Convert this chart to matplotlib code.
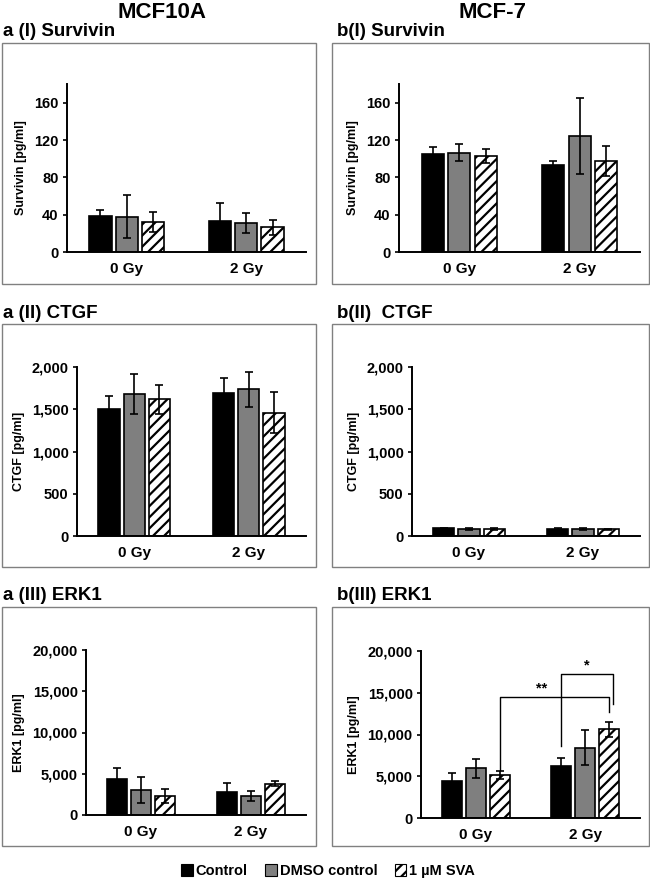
import matplotlib
matplotlib.use("Agg")
import matplotlib.pyplot as plt
from matplotlib.patches import Rectangle, Patch
from matplotlib.ticker import FuncFormatter
import numpy as np

plt.rcParams['font.family'] = ['Liberation Sans', 'DejaVu Sans']
plt.rcParams['font.weight'] = 'bold'
plt.rcParams['hatch.linewidth'] = 1.6

# ---------------- data ----------------
doses = ["0 Gy", "2 Gy"]
treatments = ["Control", "DMSO control", "1 \u00b5M SVA"]

# a(I) MCF10A Survivin
a1_mean = [[39, 38, 32], [33, 31, 26.5]]
a1_err = [[6, 23, 11], [19, 11, 8]]
# b(I) MCF-7 Survivin
b1_mean = [[105.5, 106.5, 102.5], [93, 124.5, 97.5]]
b1_err = [[7.5, 9, 7.5], [4, 41, 16]]
# a(II) MCF10A CTGF
a2_mean = [[1503, 1680, 1617], [1696, 1736, 1460]]
a2_err = [[158, 237, 174], [170, 209, 240]]
# b(II) MCF-7 CTGF
b2_mean = [[90, 80, 80], [82, 85, 78]]
b2_err = [[10, 10, 9], [8, 12, 9]]
# a(III) MCF10A ERK1
a3_mean = [[4320, 3070, 2340], [2790, 2300, 3800]]
a3_err = [[1330, 1580, 850], [1050, 560, 280]]
# b(III) MCF-7 ERK1
b3_mean = [[4410, 5960, 5130], [6240, 8390, 10620]]
b3_err = [[950, 1150, 480], [920, 2100, 875]]

# significance brackets in b(III): (from dose, from treatment, to dose, to treatment, left-foot, right-foot, top, label)
sig_brackets = [
    (0, 2, 1, 2, 5750, 12700, 14500, "**"),
    (1, 0, 1, 2, 8650, 13700, 17300, "*"),
]

ylabels = ["Survivin [pg/ml]", "CTGF [pg/ml]", "ERK1 [pg/ml]"]
ylims = [180, 2000, 20000]
yticks = [[0, 40, 80, 120, 160], [0, 500, 1000, 1500, 2000],
          [0, 5000, 10000, 15000, 20000]]
titles_a = ["a (I) Survivin", "a (II) CTGF", "a (III) ERK1"]
titles_b = ["b(I) Survivin", "b(II)  CTGF", "b(III) ERK1"]
col_titles = ["MCF10A", "MCF-7"]

# ---------------- style ----------------
fills = ["black", "#7f7f7f", "white"]
hatches = [None, None, "///"]
bar_w = 0.185
step = 0.22

W, H = 650, 882
fig = plt.figure(figsize=(W / 100, H / 100), dpi=100)


def fx(px):
    return px / W


def fy(py):
    return 1 - py / H


# panel boxes (pixel extents)
box_x = [(2, 316), (332, 649)]
box_y = [(43, 284), (324, 567), (607, 846)]
for (x0, x1) in box_x:
    for (y0, y1) in box_y:
        fig.add_artist(Rectangle((fx(x0), fy(y1)), fx(x1 - x0), (y1 - y0) / H,
                                 transform=fig.transFigure, fill=False,
                                 edgecolor="#808080", linewidth=1.0))

# axes positions (left, top, right, bottom) in pixels
axes_px = {
    (0, 0): (67, 84, 306, 252),
    (0, 1): (399, 84, 640, 252),
    (1, 0): (77, 367, 306, 536),
    (1, 1): (412, 367, 640, 536),
    (2, 0): (86, 650, 306, 815),
    (2, 1): (421, 651, 640, 818),
}
data = {
    (0, 0): (a1_mean, a1_err), (0, 1): (b1_mean, b1_err),
    (1, 0): (a2_mean, a2_err), (1, 1): (b2_mean, b2_err),
    (2, 0): (a3_mean, a3_err), (2, 1): (b3_mean, b3_err),
}

fmt = FuncFormatter(lambda v, p: f"{int(v):,}")
x = np.arange(len(doses))
axes = {}
for (r, c), (l, t, rr, b) in axes_px.items():
    ax = fig.add_axes([fx(l), fy(b), fx(rr - l), (b - t) / H])
    axes[(r, c)] = ax
    mean, err = data[(r, c)]
    mean = np.array(mean)
    err = np.array(err)
    for k in range(3):
        xs = x + (k - 1) * step
        ax.bar(xs, mean[:, k], width=bar_w, color=fills[k], edgecolor="black",
               linewidth=1.2, hatch=hatches[k], zorder=2)
        ax.errorbar(xs, mean[:, k], yerr=err[:, k], fmt="none", ecolor="black",
                    elinewidth=1.2, capsize=3, capthick=1.2, zorder=3)
    ax.set_xlim(-0.5, 1.5)
    ax.set_ylim(0, ylims[r])
    ax.set_yticks(yticks[r])
    ax.yaxis.set_major_formatter(fmt)
    ax.set_xticks(x)
    ax.set_xticklabels(doses, fontsize=11, fontweight="bold")
    ax.tick_params(axis="x", length=0, pad=7)
    ax.tick_params(axis="y", length=3, width=1.2, labelsize=10.5, pad=3)
    for lab in ax.get_yticklabels():
        lab.set_fontweight("bold")
    for s in ["top", "right"]:
        ax.spines[s].set_visible(False)
    for s in ["left", "bottom"]:
        ax.spines[s].set_linewidth(1.4)
    ax.patch.set_alpha(0)
    ax.set_ylabel(ylabels[r], fontsize=9, fontweight="bold", labelpad=5)

# significance brackets
ax = axes[(2, 1)]
for (d0, t0, d1, t1, yl, yr, ytop, lab) in sig_brackets:
    x0 = x[d0] + (t0 - 1) * step
    x1 = x[d1] + (t1 - 1) * step + (0.03 if lab == "*" else 0)
    ax.plot([x0, x0, x1, x1], [yl, ytop, ytop, yr], color="black", lw=1.0,
            zorder=4)
    ax.text((x0 + x1) / 2 - (0.12 if lab == "**" else 0), ytop + 150, lab,
            ha="center", va="bottom", fontsize=10.5, fontweight="bold")

# titles
for r, (y0, y1) in enumerate(box_y):
    fig.text(fx(3), fy(y0 - 11), titles_a[r], fontsize=13.5, fontweight="bold",
             ha="left", va="center")
    fig.text(fx(337), fy(y0 - 11), titles_b[r], fontsize=13.5, fontweight="bold",
             ha="left", va="center")
fig.text(fx(162), fy(12), col_titles[0], fontsize=16, fontweight="bold",
         ha="center", va="center")
fig.text(fx(493), fy(12), col_titles[1], fontsize=16, fontweight="bold",
         ha="center", va="center")

# legend
handles = [Patch(facecolor=fills[k], edgecolor="black", hatch=hatches[k],
                 linewidth=0.8) for k in range(3)]
fig.legend(handles, treatments, loc="center", bbox_to_anchor=(fx(328), fy(871)),
           ncol=3, frameon=False, handlelength=0.8, handleheight=0.8,
           handletextpad=0.2, columnspacing=1.2,
           prop={"size": 10.5, "weight": "bold"})

fig.savefig("out.png", dpi=100)
